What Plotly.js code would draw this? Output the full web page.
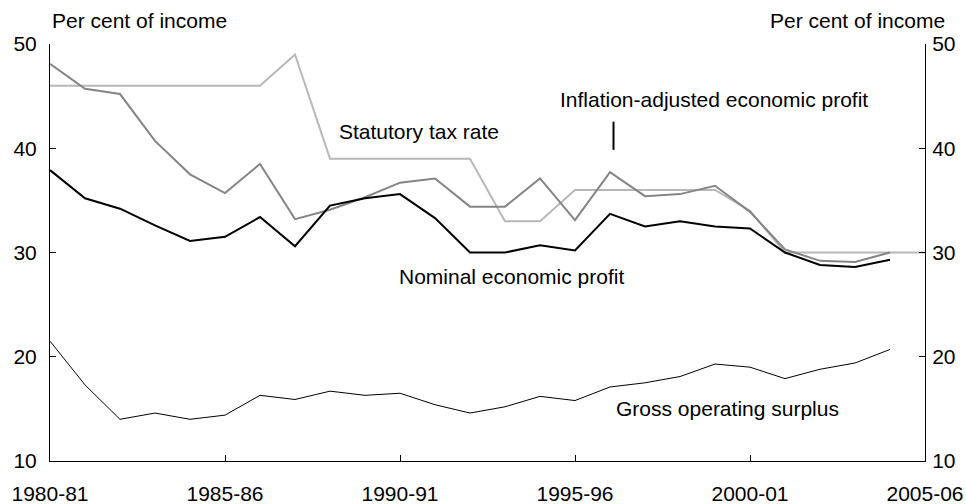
<!DOCTYPE html>
<html>
<head>
<meta charset="utf-8">
<script src="https://cdn.plot.ly/plotly-3.0.1.min.js"></script>
<style>html,body{margin:0;padding:0;background:#fff;}#chart{width:966px;height:504px;}</style>
</head>
<body>
<div id="chart"></div>
<script>
const years = ["1980-81","1981-82","1982-83","1983-84","1984-85","1985-86","1986-87","1987-88","1988-89","1989-90","1990-91","1991-92","1992-93","1993-94","1994-95","1995-96","1996-97","1997-98","1998-99","1999-00","2000-01","2001-02","2002-03","2003-04","2004-05","2005-06"];
const tickLabels = ["1980-81","1985-86","1990-91","1995-96","2000-01","2005-06"];
const statutoryTaxRate = [46,46,46,46,46,46,46,49,39,39,39,39,39,33,33,36,36,36,36,36,34,30,30,30,30,30];
const inflationAdjusted = [48.1,45.7,45.2,40.7,37.5,35.7,38.5,33.2,34.1,35.3,36.7,37.1,34.4,34.4,37.1,33.1,37.7,35.4,35.6,36.4,33.9,30.3,29.2,29.1,30.0];
const nominalProfit = [37.9,35.2,34.2,32.6,31.1,31.5,33.4,30.6,34.5,35.2,35.6,33.3,30.0,30.0,30.7,30.2,33.7,32.5,33.0,32.5,32.3,30.0,28.8,28.6,29.3];
const grossOperatingSurplus = [21.5,17.3,14.0,14.6,14.0,14.4,16.3,15.9,16.7,16.3,16.5,15.4,14.6,15.2,16.2,15.8,17.1,17.5,18.1,19.3,19.0,17.9,18.8,19.4,20.7];

const idx = a => a.map((_, i) => i);
const FONT = "Liberation Sans, Arial, sans-serif";
const FS = 21;

const traces = [
  {x: idx(statutoryTaxRate), y: statutoryTaxRate, mode: "lines", line: {color: "#b8b8b8", width: 2}, hoverinfo: "skip"},
  {x: idx(inflationAdjusted), y: inflationAdjusted, mode: "lines", line: {color: "#858585", width: 2}, hoverinfo: "skip"},
  {x: idx(nominalProfit), y: nominalProfit, mode: "lines", line: {color: "#000000", width: 2}, hoverinfo: "skip"},
  {x: idx(grossOperatingSurplus), y: grossOperatingSurplus, mode: "lines", line: {color: "#000000", width: 1}, hoverinfo: "skip"},
  {x: idx(grossOperatingSurplus), y: grossOperatingSurplus, yaxis: "y2", mode: "lines", line: {color: "rgba(0,0,0,0)", width: 0}, hoverinfo: "skip"}
];

const tickvals = tickLabels.map(t => years.indexOf(t));

const axisCommon = {
  range: [10, 50], tickvals: [10,20,30,40,50], ticks: "inside", ticklen: 6, tickcolor: "#000",
  showline: true, linecolor: "#000", linewidth: 1, showgrid: false, zeroline: false,
  tickfont: {family: FONT, size: FS, color: "#000"}, fixedrange: true
};

const layout = {
  width: 966, height: 504,
  margin: {l: 50, r: 41, t: 44, b: 43},
  paper_bgcolor: "#fff", plot_bgcolor: "#fff",
  showlegend: false,
  font: {family: FONT, size: FS, color: "#000"},
  xaxis: {
    range: [0, 25], tickvals: tickvals, ticktext: tickLabels, ticks: "inside", ticklen: 6, tickcolor: "#000",
    showline: true, linecolor: "#000", linewidth: 1, showgrid: false, zeroline: false,
    tickfont: {family: FONT, size: FS, color: "#000"}, fixedrange: true, ticklabelstandoff: 14
  },
  yaxis: Object.assign({}, axisCommon, {side: "left", ticklabelstandoff: 8}),
  yaxis2: Object.assign({}, axisCommon, {side: "right", overlaying: "y", ticklabelstandoff: 2}),
  annotations: [
    {text: "Per cent of income", xref: "paper", yref: "paper", x: 0, y: 1, xanchor: "left", yanchor: "middle", yshift: 24, xshift: 0, showarrow: false, font: {family: FONT, size: FS}},
    {text: "Per cent of income", xref: "paper", yref: "paper", x: 1, y: 1, xanchor: "right", yanchor: "middle", yshift: 24, xshift: 22, showarrow: false, font: {family: FONT, size: FS}},
    {text: "Statutory tax rate", x: 8.2, y: 41.6, xanchor: "left", yanchor: "middle", showarrow: false, font: {family: FONT, size: FS}},
    {text: "Inflation-adjusted economic profit", x: 14.5, y: 44.65, xanchor: "left", yanchor: "middle", showarrow: false, font: {family: FONT, size: FS}},
    {text: "Nominal economic profit", x: 9.9, y: 27.7, xanchor: "left", yanchor: "middle", showarrow: false, font: {family: FONT, size: FS}},
    {text: "Gross operating surplus", x: 16.1, y: 15.06, xanchor: "left", yanchor: "middle", showarrow: false, font: {family: FONT, size: FS}}
  ],
  shapes: [
    {type: "line", xref: "x", yref: "y", x0: 16.1, x1: 16.1, y0: 39.85, y1: 42.55, line: {color: "#000", width: 2}}
  ]
};

Plotly.newPlot("chart", traces, layout, {staticPlot: true, displayModeBar: false});
</script>
</body>
</html>
